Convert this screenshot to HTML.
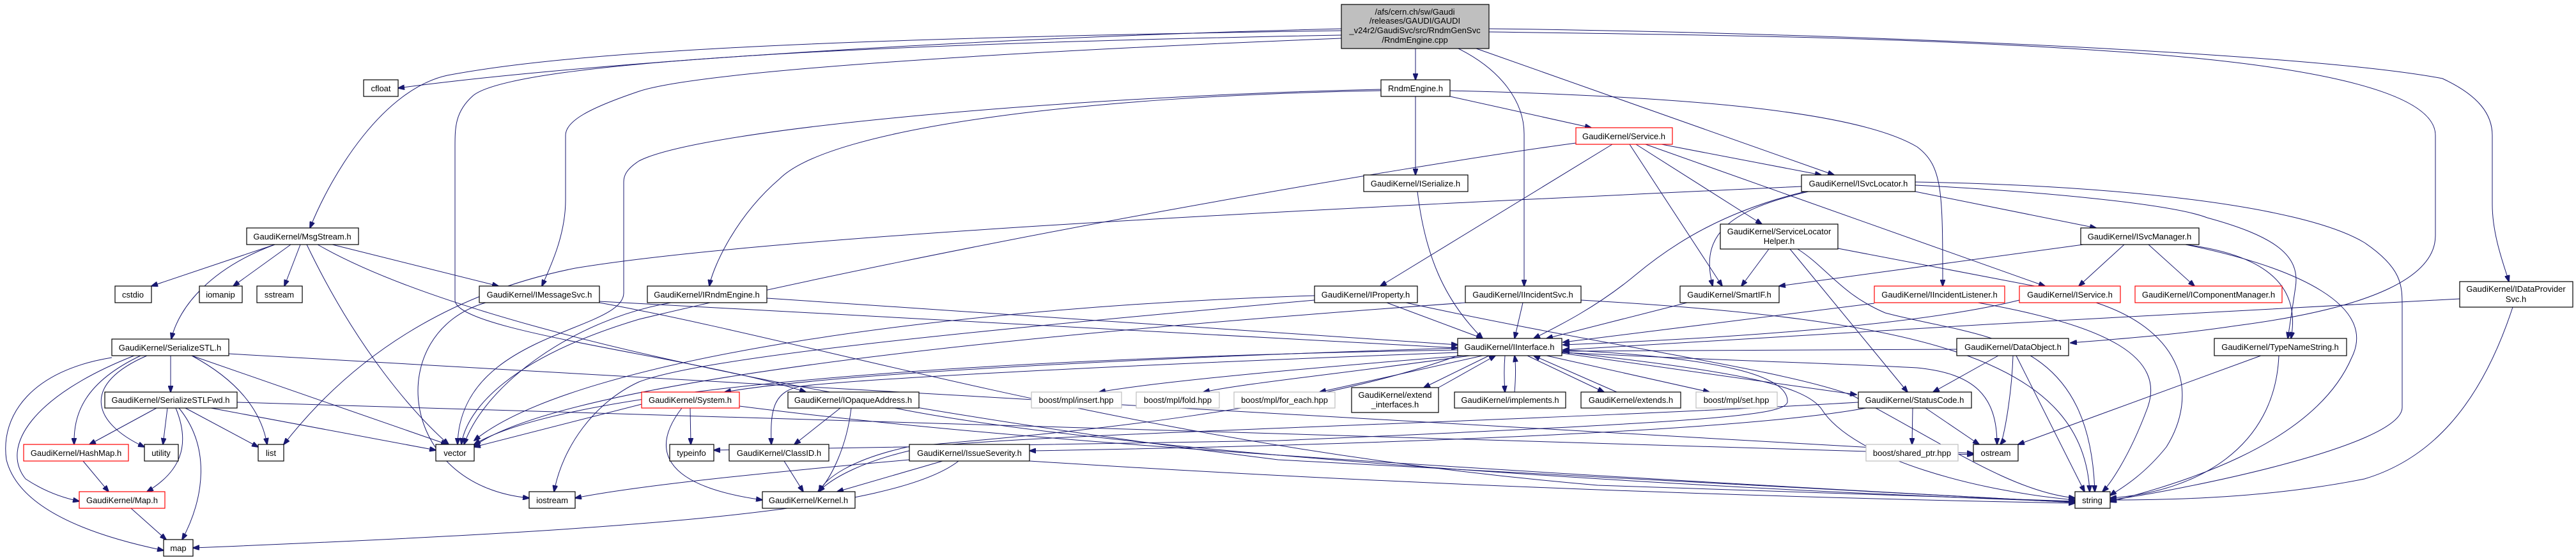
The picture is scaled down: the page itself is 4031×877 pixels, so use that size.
<!DOCTYPE html>
<html><head><meta charset="utf-8"><style>
html,body{margin:0;padding:0;background:#fff;}
svg{display:block;}
text{font-family:"Liberation Sans",sans-serif;font-size:13px;fill:#000;}
</style></head><body>
<svg width="4031" height="877" viewBox="0 0 4031 877" xmlns="http://www.w3.org/2000/svg">
<defs><marker id="a" markerWidth="11" markerHeight="8" refX="10" refY="4" orient="auto" markerUnits="userSpaceOnUse"><path d="M0,0 L11,4 L0,8 z" fill="#191970" stroke="#191970"/></marker></defs>
<g fill="none" stroke="#191970" stroke-width="1" marker-end="url(#a)">
<path d="M2099,45 C1500,60 900,100 623,138"/>
<path d="M2099,48 C1300,60 900,80 700,118 C600,140 520,270 485,357"/>
<path d="M2099,55 C1300,70 800,100 740,150 C712,175 712,200 712,230 L712,470 C712,520 1100,560 1261,614"/>
<path d="M2099,60 C1600,80 1100,110 1000,143 C920,170 885,190 885,212 L885,313 C885,370 860,420 848,448"/>
<path d="M2161,140 C1700,150 1100,200 1000,252 C980,265 976,275 976,285 L976,459 C976,520 720,520 716,696"/>
<path d="M2161,142 C1700,150 1300,200 1220,280 C1150,340 1115,420 1110,448"/>
<path d="M2215,76 L2215,125"/>
<path d="M2282,76 C2350,110 2385,160 2385,210 L2385,448"/>
<path d="M2310,76 L2870,274"/>
<path d="M2330,45 C2800,50 3600,80 3822,123 C3880,150 3900,180 3900,212 L3900,320 C3900,370 3920,420 3926,441"/>
<path d="M2330,50 C2700,55 3000,59 3300,80 C3600,100 3811,140 3811,212 L3811,369 C3811,430 3723,481 3500,510 C3400,525 3300,532 3240,537"/>
<path d="M2215,151 L2215,274"/>
<path d="M2269,151 L2490,200"/>
<path d="M2269,142 C2600,150 2900,170 3000,230 C3040,260 3040,300 3040,448"/>
<path d="M2523,226 L2160,448"/>
<path d="M2600,226 L2850,274"/>
<path d="M2550,226 L2695,448"/>
<path d="M2560,226 L2757,351"/>
<path d="M2575,226 L3200,448"/>
<path d="M2466,224 C2200,260 1500,380 1000,500 C800,560 730,640 722,696"/>
<path d="M2825,300 C2700,330 2620,380 2560,430 C2500,480 2440,510 2400,530"/>
<path d="M2830,300 C2700,330 2660,370 2680,448"/>
<path d="M2997,300 L3280,357"/>
<path d="M2997,290 C3200,300 3400,320 3454,341 C3560,370 3600,400 3592,450 L3580,530"/>
<path d="M2997,285 C3300,290 3600,320 3700,380 C3759,420 3759,447 3759,480 L3759,638 C3759,700 3400,770 3302,783"/>
<path d="M2819,292 C2000,330 1200,370 900,420 C700,460 550,560 444,696"/>
<path d="M2768,390 L2725,448"/>
<path d="M2801,390 L2985,614"/>
<path d="M2876,389 L3205,452"/>
<path d="M2813,390 C2860,420 2880,460 2950,490 C3100,530 3270,520 3278,770"/>
<path d="M3324,383 L3253,448"/>
<path d="M3362,383 L3434,448"/>
<path d="M3420,383 C3550,400 3600,450 3585,530"/>
<path d="M3260,383 L2784,448"/>
<path d="M3420,383 C3600,420 3720,480 3680,560 C3620,700 3400,760 3302,786"/>
<path d="M2933,475 L2446,536"/>
<path d="M3095,474 C3300,510 3390,560 3360,640 C3330,720 3300,760 3290,770"/>
<path d="M3280,474 C3420,520 3440,620 3390,700 C3350,750 3310,770 3302,776"/>
<path d="M3160,470 C3000,510 2700,530 2446,540"/>
<path d="M3849,468 C3400,490 2900,520 2446,548"/>
<path d="M3932,481 C3880,640 3800,720 3700,750 C3550,780 3400,783 3302,783"/>
<path d="M3127,557 L3025,614"/>
<path d="M3150,557 C3148,620 3135,690 3130,696"/>
<path d="M3155,557 L3262,770"/>
<path d="M3062,547 L2446,550"/>
<path d="M3538,557 L3158,696"/>
<path d="M3566,557 C3560,700 3440,770 3302,780"/>
<path d="M3013,639 L3097,696"/>
<path d="M2993,639 L2992,696"/>
<path d="M2920,639 C2700,680 2000,700 1611,706"/>
<path d="M2908,630 C2400,660 1600,680 1450,700 C1350,720 1300,750 1281,770"/>
<path d="M2281,545 C1800,560 1300,585 1134,614"/>
<path d="M2281,548 C1600,560 900,600 742,696"/>
<path d="M2290,557 C2000,580 1800,600 1720,614"/>
<path d="M2300,557 C2100,585 1950,600 1883,614"/>
<path d="M2320,557 L2065,614"/>
<path d="M2330,557 L2228,607"/>
<path d="M2355,557 C2353,580 2354,600 2355,614"/>
<path d="M2390,557 L2510,614"/>
<path d="M2420,557 L2675,614"/>
<path d="M2444,553 L2905,618"/>
<path d="M2444,552 C2700,565 2900,570 3000,576 C3090,585 3125,620 3125,696"/>
<path d="M2444,548 C2700,560 2800,590 2797,630 C2790,650 2700,660 2000,690 L1117,705"/>
<path d="M2444,551 C2700,580 2820,600 2850,640 C2900,720 3100,770 3247,783"/>
<path d="M2281,552 C1800,570 1400,590 1260,604 C1210,610 1205,640 1207,696"/>
<path d="M2281,557 C2000,660 1500,690 1420,700 C1330,720 1290,750 1282,770"/>
<path d="M2251,607 L2340,557"/>
<path d="M2370,614 C2372,590 2372,570 2370,557"/>
<path d="M2530,614 L2400,557"/>
<path d="M2170,474 L2320,530"/>
<path d="M2057,463 C1500,480 900,560 742,690"/>
<path d="M2200,474 C2500,540 2800,580 2900,620 C3050,700 3150,770 3247,780"/>
<path d="M2057,470 C1500,520 1100,560 1000,598 C930,630 880,700 867,770"/>
<path d="M2383,474 L2370,530"/>
<path d="M2474,470 C3000,500 3260,560 3270,770"/>
<path d="M2293,474 C1800,510 900,580 740,700"/>
<path d="M2640,474 L2420,530"/>
<path d="M2218,300 C2230,400 2260,470 2320,530"/>
<path d="M1200,467 C1700,500 2100,530 2281,540"/>
<path d="M1050,474 C900,500 760,600 726,696"/>
<path d="M938,472 C1500,500 2000,530 2281,545"/>
<path d="M760,474 C600,520 620,760 828,780"/>
<path d="M938,474 C1300,540 1800,700 2500,760 L3247,785"/>
<path d="M430,383 L237,448"/>
<path d="M455,383 L365,448"/>
<path d="M470,383 L445,448"/>
<path d="M480,383 C560,550 650,650 702,696"/>
<path d="M520,383 L780,448"/>
<path d="M430,383 C330,420 280,480 268,531"/>
<path d="M497,383 C700,500 1200,620 2000,720 L3247,787"/>
<path d="M267,557 L267,614"/>
<path d="M220,557 C130,600 115,650 116,696"/>
<path d="M230,557 C130,600 140,660 226,700"/>
<path d="M300,557 C380,600 410,650 418,696"/>
<path d="M300,557 L700,696"/>
<path d="M175,560 C50,580 0,650 10,720 C30,800 150,840 256,862"/>
<path d="M210,557 C50,620 0,700 40,750 C70,770 100,780 124,785"/>
<path d="M358,554 L3088,710"/>
<path d="M245,639 L140,696"/>
<path d="M262,639 L255,696"/>
<path d="M290,639 L404,700"/>
<path d="M330,639 L682,705"/>
<path d="M275,639 C300,700 280,740 230,770"/>
<path d="M280,639 C330,700 320,780 285,845"/>
<path d="M371,630 L3088,712"/>
<path d="M130,722 L170,770"/>
<path d="M205,796 L260,845"/>
<path d="M1080,639 L1081,696"/>
<path d="M1067,639 C1020,700 1030,760 1193,783"/>
<path d="M1004,633 L742,700"/>
<path d="M1157,636 C1500,680 2000,720 3247,787"/>
<path d="M1315,639 L1243,696"/>
<path d="M1332,639 C1325,700 1300,750 1280,770"/>
<path d="M1400,639 C1700,700 2500,760 3247,786"/>
<path d="M1227,722 L1257,770"/>
<path d="M1475,722 L1310,770"/>
<path d="M1423,720 C1200,740 1000,760 900,780"/>
<path d="M1500,722 C1400,800 1000,830 302,858"/>
<path d="M1611,722 C2200,760 2800,780 3247,788"/>
</g>
<g stroke-width="1.2">
<rect x="2099" y="7" width="231" height="69" fill="#bfbfbf" stroke="#000"/>
<g fill="#fff" stroke="#000">
<rect x="569" y="125" width="54" height="26"/>
<rect x="386" y="357" width="175" height="26"/>
<rect x="180" y="448" width="57" height="26"/>
<rect x="312" y="448" width="67" height="26"/>
<rect x="402" y="448" width="71" height="26"/>
<rect x="750" y="448" width="188" height="26"/>
<rect x="175" y="531" width="183" height="26"/>
<rect x="164" y="614" width="207" height="25"/>
<rect x="226" y="696" width="53" height="26"/>
<rect x="404" y="696" width="40" height="26"/>
<rect x="682" y="696" width="60" height="26"/>
<rect x="256" y="845" width="46" height="26"/>
<rect x="828" y="770" width="72" height="26"/>
<rect x="1013" y="448" width="187" height="26"/>
<rect x="1233" y="614" width="205" height="25"/>
<rect x="1048" y="696" width="69" height="26"/>
<rect x="1141" y="696" width="156" height="26"/>
<rect x="1423" y="696" width="188" height="26"/>
<rect x="1193" y="770" width="145" height="26"/>
<rect x="2161" y="125" width="108" height="26"/>
<rect x="2134" y="274" width="163" height="26"/>
<rect x="2819" y="274" width="178" height="26"/>
<rect x="2692" y="351" width="184" height="39"/>
<rect x="2057" y="448" width="161" height="26"/>
<rect x="2293" y="448" width="181" height="26"/>
<rect x="2629" y="448" width="155" height="26"/>
<rect x="2281" y="530" width="163" height="27"/>
<rect x="2115" y="607" width="136" height="39"/>
<rect x="2276" y="614" width="174" height="25"/>
<rect x="2474" y="614" width="156" height="25"/>
<rect x="2908" y="614" width="177" height="25"/>
<rect x="3256" y="357" width="185" height="26"/>
<rect x="3849" y="441" width="177" height="40"/>
<rect x="3062" y="530" width="175" height="27"/>
<rect x="3465" y="530" width="207" height="27"/>
<rect x="3088" y="696" width="70" height="26"/>
<rect x="3247" y="770" width="55" height="26"/>
</g>
<g fill="#fff" stroke="#ff0000">
<rect x="37" y="696" width="164" height="26"/>
<rect x="124" y="770" width="134" height="26"/>
<rect x="1004" y="614" width="153" height="25"/>
<rect x="2466" y="200" width="151" height="26"/>
<rect x="2933" y="448" width="204" height="26"/>
<rect x="3160" y="448" width="158" height="26"/>
<rect x="3341" y="448" width="230" height="26"/>
</g>
<g fill="#fff" stroke="#bfbfbf">
<rect x="1614" y="614" width="141" height="25"/>
<rect x="1778" y="614" width="130" height="25"/>
<rect x="1931" y="614" width="158" height="25"/>
<rect x="2654" y="614" width="127" height="25"/>
<rect x="2920" y="696" width="144" height="26"/>
</g>
</g>
<g text-anchor="middle">
<text x="2214" y="23">/afs/cern.ch/sw/Gaudi</text>
<text x="2214" y="37">/releases/GAUDI/GAUDI</text>
<text x="2214" y="52">_v24r2/GaudiSvc/src/RndmGenSvc</text>
<text x="2214" y="67">/RndmEngine.cpp</text>
<text x="596" y="143">cfloat</text>
<text x="473" y="375">GaudiKernel/MsgStream.h</text>
<text x="208" y="466">cstdio</text>
<text x="345" y="466">iomanip</text>
<text x="437" y="466">sstream</text>
<text x="844" y="466">GaudiKernel/IMessageSvc.h</text>
<text x="266" y="549">GaudiKernel/SerializeSTL.h</text>
<text x="267" y="631">GaudiKernel/SerializeSTLFwd.h</text>
<text x="119" y="714">GaudiKernel/HashMap.h</text>
<text x="252" y="714">utility</text>
<text x="424" y="714">list</text>
<text x="712" y="714">vector</text>
<text x="191" y="788">GaudiKernel/Map.h</text>
<text x="279" y="863">map</text>
<text x="864" y="788">iostream</text>
<text x="1106" y="466">GaudiKernel/IRndmEngine.h</text>
<text x="1080" y="631">GaudiKernel/System.h</text>
<text x="1335" y="631">GaudiKernel/IOpaqueAddress.h</text>
<text x="1684" y="631">boost/mpl/insert.hpp</text>
<text x="1843" y="631">boost/mpl/fold.hpp</text>
<text x="2010" y="631">boost/mpl/for_each.hpp</text>
<text x="1082" y="714">typeinfo</text>
<text x="1219" y="714">GaudiKernel/ClassID.h</text>
<text x="1517" y="714">GaudiKernel/IssueSeverity.h</text>
<text x="1265" y="788">GaudiKernel/Kernel.h</text>
<text x="2215" y="143">RndmEngine.h</text>
<text x="2541" y="218">GaudiKernel/Service.h</text>
<text x="2215" y="292">GaudiKernel/ISerialize.h</text>
<text x="2908" y="292">GaudiKernel/ISvcLocator.h</text>
<text x="2784" y="367">GaudiKernel/ServiceLocator</text>
<text x="2784" y="382">Helper.h</text>
<text x="2137" y="466">GaudiKernel/IProperty.h</text>
<text x="2383" y="466">GaudiKernel/IIncidentSvc.h</text>
<text x="2706" y="466">GaudiKernel/SmartIF.h</text>
<text x="3035" y="466">GaudiKernel/IIncidentListener.h</text>
<text x="2362" y="548">GaudiKernel/IInterface.h</text>
<text x="2183" y="623">GaudiKernel/extend</text>
<text x="2183" y="638">_interfaces.h</text>
<text x="2363" y="631">GaudiKernel/implements.h</text>
<text x="2552" y="631">GaudiKernel/extends.h</text>
<text x="2717" y="631">boost/mpl/set.hpp</text>
<text x="2996" y="631">GaudiKernel/StatusCode.h</text>
<text x="2992" y="714">boost/shared_ptr.hpp</text>
<text x="3348" y="375">GaudiKernel/ISvcManager.h</text>
<text x="3239" y="466">GaudiKernel/IService.h</text>
<text x="3456" y="466">GaudiKernel/IComponentManager.h</text>
<text x="3937" y="457">GaudiKernel/IDataProvider</text>
<text x="3937" y="473">Svc.h</text>
<text x="3150" y="548">GaudiKernel/DataObject.h</text>
<text x="3568" y="548">GaudiKernel/TypeNameString.h</text>
<text x="3123" y="714">ostream</text>
<text x="3274" y="788">string</text>
</g>
</svg>
</body></html>
